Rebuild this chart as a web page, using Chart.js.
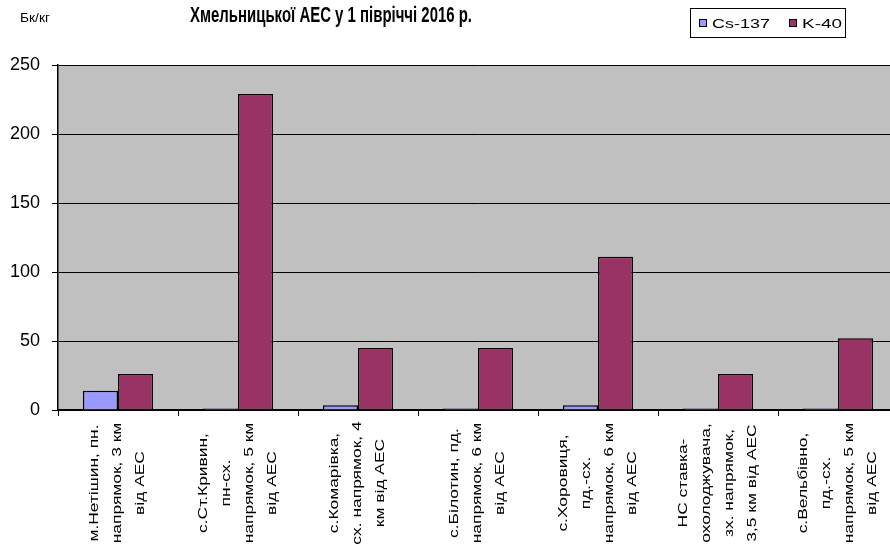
<!DOCTYPE html>
<html>
<head>
<meta charset="utf-8">
<script src="https://cdn.jsdelivr.net/npm/chart.js@4"></script>
<style>
    body { margin: 0; width: 890px; height: 547px; overflow: hidden; background: #fff; }
    canvas { display: block; }
</style>
</head>
<body>
<canvas id="myChart" width="898" height="547"></canvas>
<script>
// data
const places = [
    ['м.Нетішин, пн.', 'напрямок, 3 км', 'від АЕС'],
    ['с.Ст.Кривин,', 'пн-сх.', 'напрямок, 5 км', 'від АЕС'],
    ['с.Комарівка,', 'сх. напрямок, 4', 'км від АЕС'],
    ['с.Білотин, пд.', 'напрямок, 6 км', 'від АЕС'],
    ['с.Хоровиця,', 'пд.-сх.', 'напрямок, 6 км', 'від АЕС'],
    ['НС ставка-', 'охолоджувача,', 'зх. напрямок,', '3,5 км від АЕС'],
    ['с.Вельбівно,', 'пд.-сх.', 'напрямок, 5 км', 'від АЕС']
];
const cs137 = [14, 1, 3.5, 1, 3.5, 1, 1];
const k40 = [26, 229, 45, 45, 111, 26, 52];
const yTicks = [0, 50, 100, 150, 200, 250];

const chartTitle = 'Хмельницької АЕС у 1 півріччі 2016 р.';
const unitText = 'Бк/кг';

// draw text squeezed/stretched into a given width
function fitText(ctx, text, font, left, baseline, width, sy) {
    ctx.save();
    ctx.font = font;
    const w = ctx.measureText(text).width;
    ctx.translate(left, baseline);
    ctx.scale(width / w, sy);
    ctx.textAlign = 'left';
    ctx.textBaseline = 'alphabetic';
    ctx.fillText(text, 0, 0);
    ctx.restore();
}

const decor = {
    id: 'decor',
    beforeDraw(chart) {
        const a = chart.chartArea;
        const ctx = chart.ctx;
        ctx.save();
        ctx.fillStyle = '#c0c0c0';
        ctx.fillRect(a.left, a.top, a.right - a.left, a.bottom - a.top);
        ctx.restore();
    },
    afterDraw(chart) {
        const ctx = chart.ctx;
        const xs = chart.scales.x;
        ctx.save();
        ctx.fillStyle = '#000';

        // category labels, rotated, lines centered
        ctx.font = '12px "Liberation Sans", Arial, sans-serif';
        ctx.textAlign = 'center';
        ctx.textBaseline = 'middle';
        chart.data.labels.forEach((lines, i) => {
            const cx = xs.getPixelForTick(i);
            lines.forEach((line, j) => {
                const lx = cx + (j - (lines.length - 1) / 2) * 23;
                ctx.save();
                ctx.translate(lx, 483);
                ctx.rotate(-Math.PI / 2);
                ctx.scale(1.45, 1);
                ctx.fillText(line, 0, 0);
                ctx.restore();
            });
        });

        // title and unit
        fitText(ctx, chartTitle, 'bold 15px "Liberation Sans", Arial, sans-serif', 190, 22, 282, 1.45);
        fitText(ctx, unitText, '10px "Liberation Sans", Arial, sans-serif', 20, 22, 30, 1.2);

        // legend box
        ctx.strokeStyle = '#000';
        ctx.lineWidth = 1;
        ctx.strokeRect(690.5, 8.5, 155, 29);
        const sq = [699, 789];
        const tx = [[712, 58], [802, 40]];
        chart.data.datasets.forEach((ds, i) => {
            ctx.fillStyle = ds.backgroundColor;
            ctx.fillRect(sq[i] + 0.5, 19.5, 7, 7);
            ctx.strokeRect(sq[i] + 0.5, 19.5, 7, 7);
            ctx.fillStyle = '#000';
            fitText(ctx, ds.label, '11px "Liberation Sans", Arial, sans-serif', tx[i][0], 28, tx[i][1], 1.15);
        });
        ctx.restore();
    }
};

const ctx = document.getElementById('myChart');
new Chart(ctx, {
    type: 'bar',
    data: {
        labels: places,
        datasets: [{
            label: 'Cs-137',
            data: cs137,
            backgroundColor: '#9999ff',
            borderColor: '#000',
            borderWidth: 1.5
        }, {
            label: 'K-40',
            data: k40,
            backgroundColor: '#993366',
            borderColor: '#000',
            borderWidth: 1.5
        }]
    },
    options: {
        responsive: false,
        animation: false,
        layout: { padding: { top: 65, left: 0, right: 0, bottom: 0 } },
        datasets: {
            bar: { categoryPercentage: 0.585, barPercentage: 1 }
        },
        plugins: {
            legend: { display: false },
            title: { display: false },
            tooltip: { enabled: false }
        },
        scales: {
            x: {
                ticks: { display: false },
                grid: { offset: true, drawOnChartArea: false, tickLength: 6, color: '#000' },
                border: { color: '#000', width: 1.5 },
                afterFit(scale) { scale.height = 137; }
            },
            y: {
                min: 0,
                max: 250,
                afterBuildTicks(scale) { scale.ticks = yTicks.map(v => ({ value: v })); },
                ticks: {
                    padding: 12,
                    color: '#000',
                    font: { family: '"Liberation Sans", Arial, sans-serif', size: 18 }
                },
                grid: { color: '#000', tickLength: 6 },
                border: { color: '#000', width: 1.5 },
                afterFit(scale) { scale.width = 58; }
            }
        }
    },
    plugins: [decor]
});
</script>
</body>
</html>
